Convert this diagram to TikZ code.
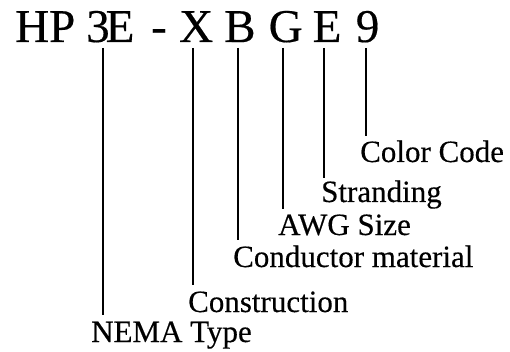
\documentclass[tikz,border=0pt]{standalone}
\usepackage{fontspec}
\setmainfont{Liberation Serif}
\newfontfamily\heavy{Liberation Serif}[FakeBold=0.35]
\begin{document}
\begin{tikzpicture}[x=1pt,y=-1pt,
  big/.style={inner sep=0pt, anchor=base west, font=\heavy\fontsize{47}{47}\selectfont},
  lab/.style={inner sep=0pt, anchor=base west, font=\heavy\fontsize{31}{31}\selectfont},
  lead/.style={line width=1.4pt, black}]
\useasboundingbox (0,0) rectangle (510,352);
% code characters
\node[big] (hp)   at (15,42)    {HP};
\node[big] (c3)   at (86,42)    {3};
\node[big] (cE)   at (105.5,42) {E};
\node[big] (dash) at (151,42)   {-};
\node[big] (cX)   at (179,42)   {X};
\node[big] (cB)   at (224,42)   {B};
\node[big] (cG)   at (268.5,42) {G};
\node[big] (cE2)  at (312.5,42) {E};
\node[big] (c9)   at (355.6,42) {9};
% labels
\node[lab] (color)  at (360,162) {Color Code};
\node[lab] (strand) at (321,202) {Stranding};
\node[lab] (awg)    at (278,235) {AWG Size};
\node[lab] (cond)   at (233,267) {Conductor material};
\node[lab] (constr) at (188,312) {Construction};
\node[lab] (nema)   at (91,342)  {NEMA Type};
% line tops
\coordinate (t1) at (103,48);
\coordinate (t2) at (193,48);
\coordinate (t3) at (238,48);
\coordinate (t4) at (283,48);
\coordinate (t5) at (324,48);
\coordinate (t6) at (366,48);
% leaders
\draw[lead] (t1) -- ([yshift=6.5pt]t1 |- nema.north);
\draw[lead] (t2) -- ([yshift=6.5pt]t2 |- constr.north);
\draw[lead] (t3) -- ([yshift=5pt]t3 |- cond.north);
\draw[lead] (t4) -- ([yshift=5.5pt]t4 |- awg.north);
\draw[lead] (t5) -- ([yshift=2pt]t5 |- strand.north);
\draw[lead] (t6) -- ([yshift=4pt]t6 |- color.north);
\end{tikzpicture}
\end{document}
